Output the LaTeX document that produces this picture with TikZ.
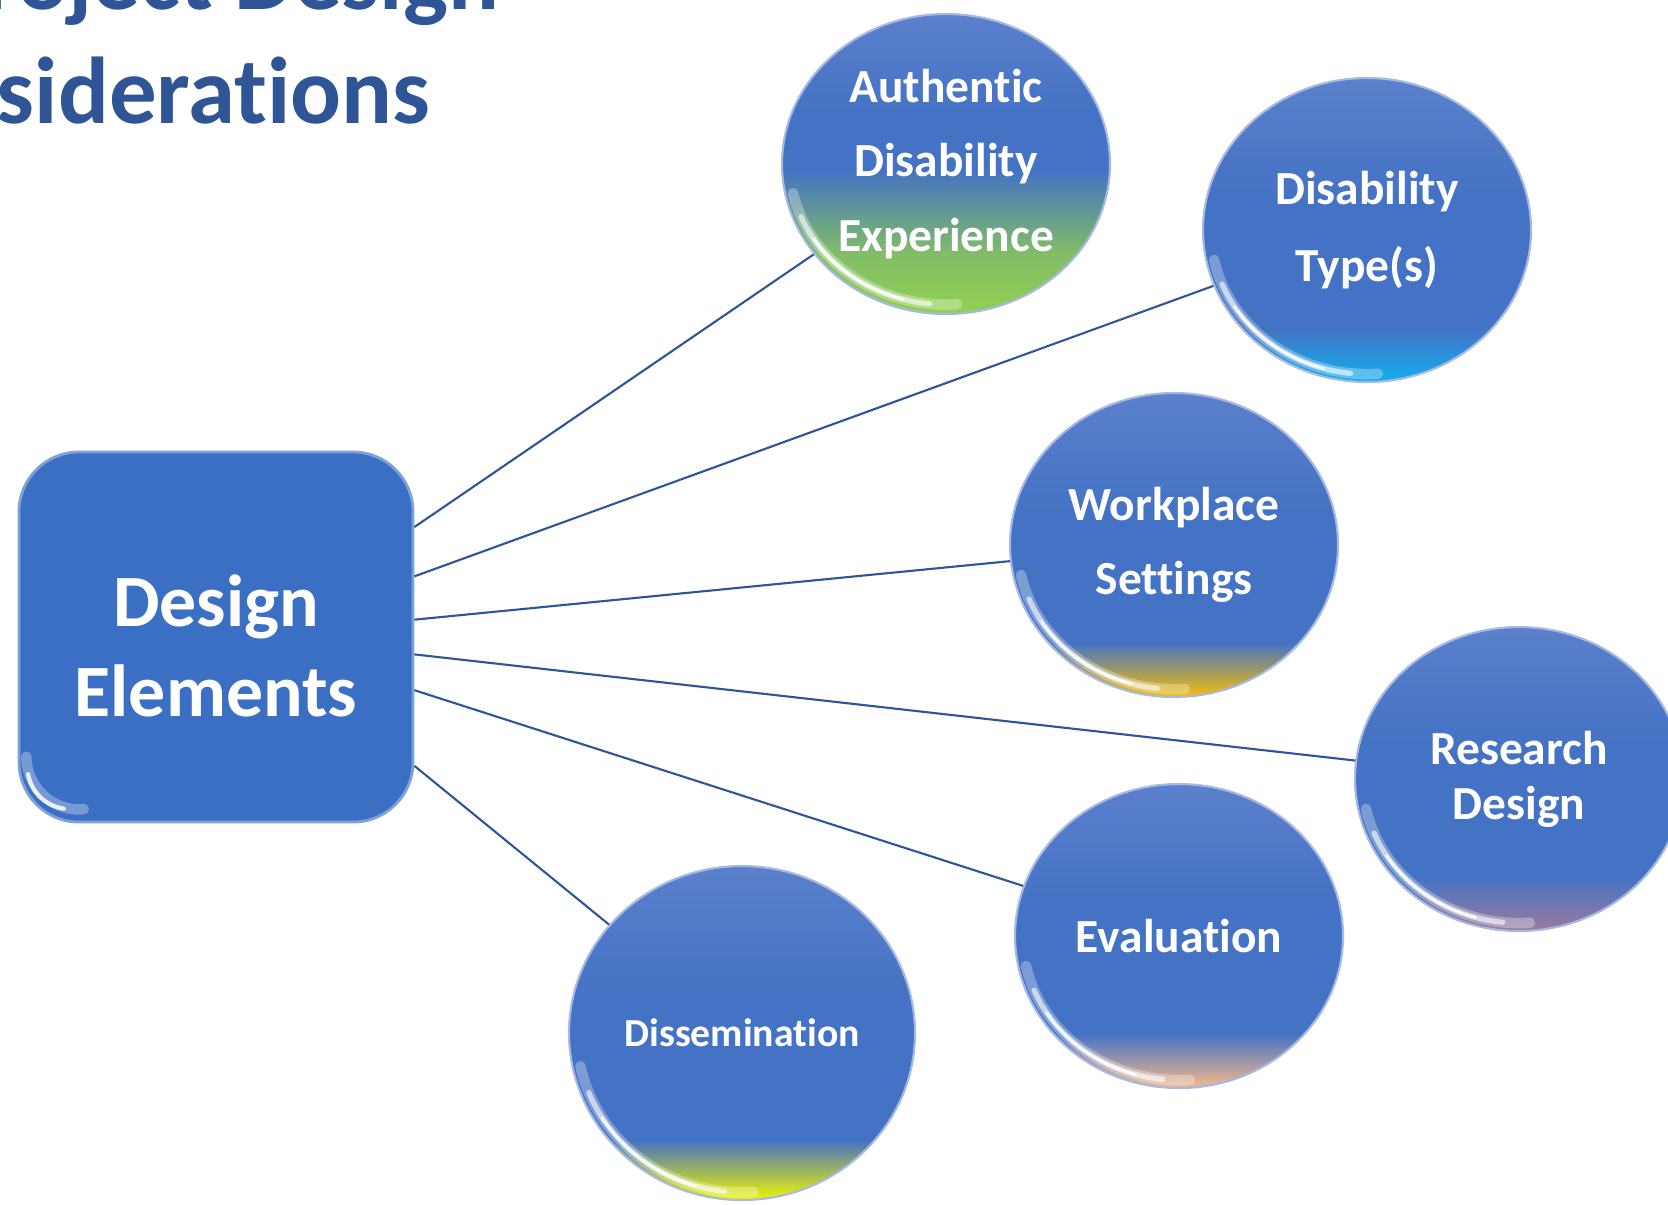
\documentclass[tikz,border=0pt]{standalone}
\usepackage{fontspec}
\setmainfont{Carlito}[Ligatures={NoCommon}]
\usetikzlibrary{shapes.geometric}

\definecolor{titleblue}{HTML}{2F5597}
\definecolor{linkblue}{HTML}{2F5597}
\definecolor{hubblue}{HTML}{3A6FC3}
\definecolor{bubbleblue}{HTML}{4472C4}
\definecolor{bubbletop}{HTML}{5B80CC}
\definecolor{tintgreen}{HTML}{92D050}
\definecolor{tintcyan}{HTML}{12AEEF}
\definecolor{tintgold}{HTML}{F5BE0A}
\definecolor{tintmauve}{HTML}{9C7B9E}
\definecolor{tintpeach}{HTML}{F6B98C}
\definecolor{tintyellow}{HTML}{F0F500}
\colorlet{accent}{bubbleblue}

% shading of the bubbles, bottom colour set per node
\pgfdeclareverticalshading[accent]{bubble}{100bp}{color(0bp)=(accent); color(25bp)=(accent); color(34bp)=(bubbleblue); color(55bp)=(bubbleblue); color(75bp)=(bubbletop); color(100bp)=(bubbletop)}
\pgfdeclareverticalshading[accent]{bubbletall}{100bp}{color(0bp)=(accent); color(25bp)=(accent); color(35bp)=(accent!80!bubbleblue); color(49bp)=(bubbleblue); color(58bp)=(bubbleblue); color(75bp)=(bubbletop); color(100bp)=(bubbletop)}

% white glint along the lower left edge of a bubble
\newcommand{\glint}[3]{%
	\draw[rim, line width=3pt, opacity=0.3] (#1.center) ++(192:#2 and #3) arc[start angle=192, end angle=274, x radius=#2, y radius=#3];
	\draw[rim, line width=1.5pt, opacity=0.6] (#1.center) ++(202:#2 and #3) arc[start angle=202, end angle=264, x radius=#2, y radius=#3];
	\draw[rim, line width=0.7pt, opacity=0.9] (#1.center) ++(212:#2 and #3) arc[start angle=212, end angle=254, x radius=#2, y radius=#3];}

\begin{document}
\begin{tikzpicture}[x=0.1mm, y=-0.1mm,
	hub/.style = {rectangle, draw=hubblue!65!white, line width=0.8pt, fill=hubblue, rounded corners=17pt, minimum width=39.4mm, minimum height=37mm, text=white, align=center, font=\bfseries\fontsize{21}{25.6}\selectfont},
	bubble/.style = {ellipse, draw=bubbletop!55!white, line width=0.6pt, shade, shading=bubble, minimum width=32.8mm, minimum height=30.4mm, inner sep=0pt, text=white, align=center, font=\bfseries\fontsize{13.5}{21.3}\selectfont},
	tint/.code = {\colorlet{accent}{#1}},
	link/.style = {linkblue, line width=0.6pt},
	rim/.style = {white, line cap=round},
	heading/.style = {text=titleblue, inner sep=0pt, font=\bfseries\fontsize{27}{32}\selectfont}]
		\useasboundingbox (0,0) rectangle (1668,1204);
		\clip (0,0) rectangle (1668,1204);
		
		%Title, cut off at the top left
		\node[heading, anchor=base east] (t1) at (500,9) {Project Design};
		\node[heading, anchor=base east] (t2) at (431,123) {Considerations};
		
		%Centre box
		\node[hub] (hub) at (216,637) {\rule{0pt}{20pt}Design\\Elements};
		
		%Bubbles
		\node[bubble, tint=tintgreen, shading=bubbletall, minimum height=30mm] (ade) at (946,164) {Authentic\\Disability\\Experience};
		\node[bubble, tint=tintcyan, font=\bfseries\fontsize{13.5}{22}\selectfont] (dtype) at (1367,230) {Disability\\Type(s)};
		\node[bubble, tint=tintgold, font=\bfseries\fontsize{13.5}{21}\selectfont] (work) at (1174,545) {Workplace\\Settings};
		\node[bubble, tint=tintmauve, font=\bfseries\fontsize{13.5}{15.6}\selectfont] (res) at (1519,779) {Research\\Design};
		\node[bubble, tint=tintpeach] (eval) at (1179,936) {Evaluation};
		\node[bubble, tint=tintyellow, minimum width=34.6mm, minimum height=33.4mm, font=\bfseries\fontsize{11.3}{14}\selectfont] (diss) at (742,1033) {Dissemination};
		
		%Links from the box
		\draw[link] (hub.29) -- (ade);	%Box -> Authentic Disability Experience
		\draw[link] (hub.17) -- (dtype);	%Box -> Disability Type(s)
		\draw[link] (hub.5) -- (work);	%Box -> Workplace Settings
		\draw[link] (hub.-5) -- (res);	%Box -> Research Design
		\draw[link] (hub.-15) -- (eval);	%Box -> Evaluation
		\draw[link] (hub.-33) -- (diss);	%Box -> Dissemination
		
		%Light rims on the lower left
		\draw[rim, line width=3pt, opacity=0.3] (hub.south west) ++(2.5pt,19pt) arc[start angle=180, end angle=275, radius=15pt];
		\draw[rim, line width=1.2pt, opacity=0.85] (hub.south west) ++(3pt,14pt) arc[start angle=190, end angle=262, radius=12pt];
		\glint{ade}{44.5pt}{40pt}
		\glint{dtype}{44.5pt}{41pt}
		\glint{work}{44.5pt}{41pt}
		\glint{res}{44.5pt}{41pt}
		\glint{eval}{44.5pt}{41pt}
		\glint{diss}{47pt}{45.3pt}
	\end{tikzpicture}
\end{document}
